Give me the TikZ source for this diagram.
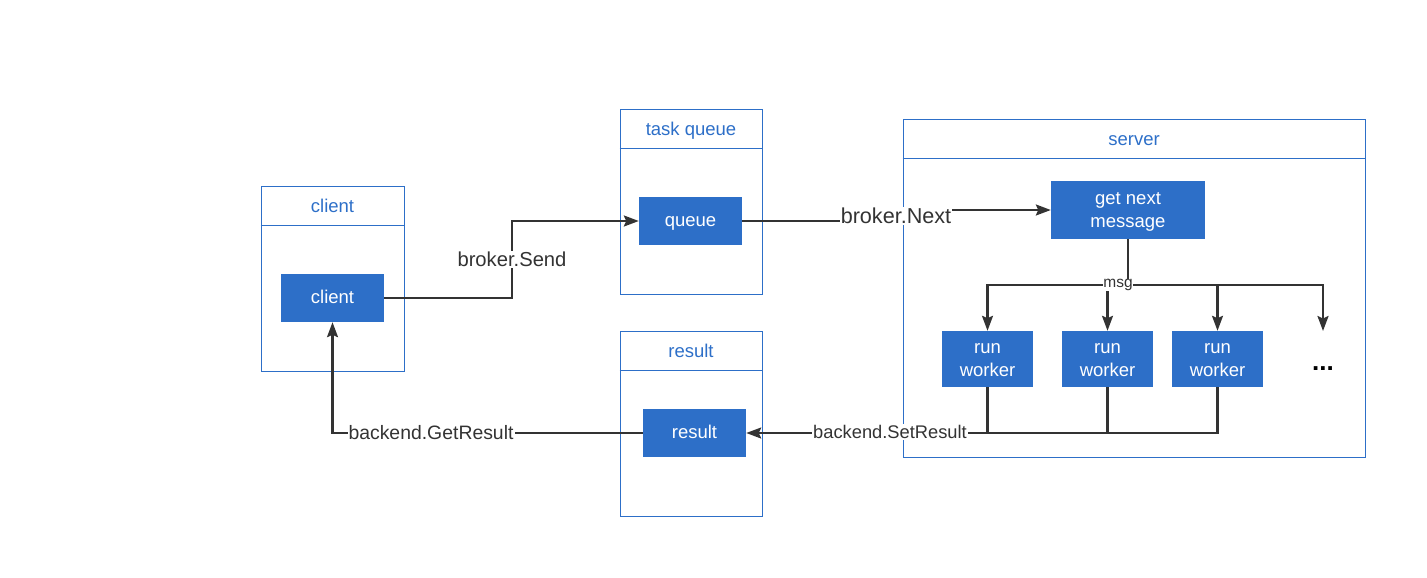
\documentclass[tikz,border=0pt]{standalone}
\usepackage{fontspec}
\setmainfont{Liberation Sans}
\usetikzlibrary{arrows.meta,calc}
\definecolor{bblue}{HTML}{2D6FC8}
\definecolor{lnc}{HTML}{333333}
\begin{document}
\begin{tikzpicture}[x=1pt,y=-1pt,
  container/.style={draw=bblue, line width=1pt, inner sep=0pt},
  hdr/.style={text=bblue, font=\fontsize{18.5}{22}\selectfont, inner sep=0pt, text height=13.5pt, text depth=0.5pt},
  bluebox/.style={fill=bblue, text=white, inner sep=0pt, align=center, font=\fontsize{18.5}{23}\selectfont, text height=14pt, text depth=3pt},
  twoline/.style={text height=37pt, text depth=3pt},
  conn/.style={draw=lnc, line width=2.2pt, -{Stealth[length=15pt,width=11pt,inset=2.5pt]}},
  wire/.style={draw=lnc, line width=2.2pt},
  lbl/.style={fill=white, text=lnc, inner sep=1pt}
]
\useasboundingbox (0,0) rectangle (1427,578);
% containers
\node[container, minimum width=143pt, minimum height=185pt] (clientC) at (332.5,278.5) {};
\draw[bblue, line width=1pt] ([yshift=-40pt]clientC.north west) -- ([yshift=-40pt]clientC.north east);
\node[hdr] (clientH) at ([yshift=-20pt]clientC.north) {client};

\node[container, minimum width=142pt, minimum height=185pt] (queueC) at (691,201.5) {};
\draw[bblue, line width=1pt] ([yshift=-40pt]queueC.north west) -- ([yshift=-40pt]queueC.north east);
\node[hdr] (queueH) at ([yshift=-20pt]queueC.north) {task queue};

\node[container, minimum width=142pt, minimum height=185pt] (resultC) at (691,423.5) {};
\draw[bblue, line width=1pt] ([yshift=-40pt]resultC.north west) -- ([yshift=-40pt]resultC.north east);
\node[hdr] (resultH) at ([yshift=-20pt]resultC.north) {result};

\node[container, minimum width=462pt, minimum height=338pt] (serverC) at (1134,288) {};
\draw[bblue, line width=1pt] ([yshift=-40pt]serverC.north west) -- ([yshift=-40pt]serverC.north east);
\node[hdr] (serverH) at ([yshift=-20pt]serverC.north) {server};

% blue boxes
\node[bluebox, minimum width=103pt, minimum height=48pt] (client) at (332.5,298) {client};
\node[bluebox, minimum width=103pt, minimum height=48pt] (queue) at (690.5,221) {queue};
\node[bluebox, minimum width=103pt, minimum height=48pt] (result) at (694.5,433) {result};
\node[bluebox, twoline, minimum width=154pt, minimum height=58pt] (getnext) at (1128,210) {get next\\message};
\node[bluebox, twoline, minimum width=91pt, minimum height=56pt] (w1) at (987.5,359) {run\\worker};
\node[bluebox, twoline, minimum width=91pt, minimum height=56pt] (w2) at (1107.5,359) {run\\worker};
\node[bluebox, twoline, minimum width=91pt, minimum height=56pt] (w3) at (1217.5,359) {run\\worker};
\node[font=\bfseries\fontsize{26}{28}\selectfont, inner sep=0pt, anchor=base] (dots) at (1323,370) {...};
\coordinate (dotsTop) at (1323,331);

% connectors
\draw[conn] (client.east) -- (512,298) |- node[lbl, pos=0.25, font=\fontsize{20.2}{24}\selectfont] {broker.Send} (queue.west);
\draw[conn] (queue.east) -- (896,221) |- (getnext.west);
\node[lbl, font=\fontsize{21.6}{24}\selectfont] (bnext) at (896,216) {broker.Next};
\draw[wire] (getnext.south) -- (1128,285) coordinate (m);
\draw[conn] (m) -| (w1.north);
\draw[conn] (m) -| (w3.north);
\draw[conn] (m) -| (dotsTop);
\draw[conn] (w2.north |- m) -- (w2.north);
\node[lbl, font=\fontsize{15.5}{18}\selectfont, inner sep=0.5pt] (msg) at (1118,285) {msg};
\draw[wire] (w1.south) -- (w1.south |- result.east);
\draw[wire] (w2.south) -- (w2.south |- result.east);
\draw[conn] (w3.south) |- (result.east);
\node[lbl, font=\fontsize{18.3}{22}\selectfont] (setres) at (890,432) {backend.SetResult};
\draw[conn] (result.west) -| (client.south);
\node[lbl, font=\fontsize{19.4}{22}\selectfont] (getres) at (431,433) {backend.GetResult};
\end{tikzpicture}
\end{document}
